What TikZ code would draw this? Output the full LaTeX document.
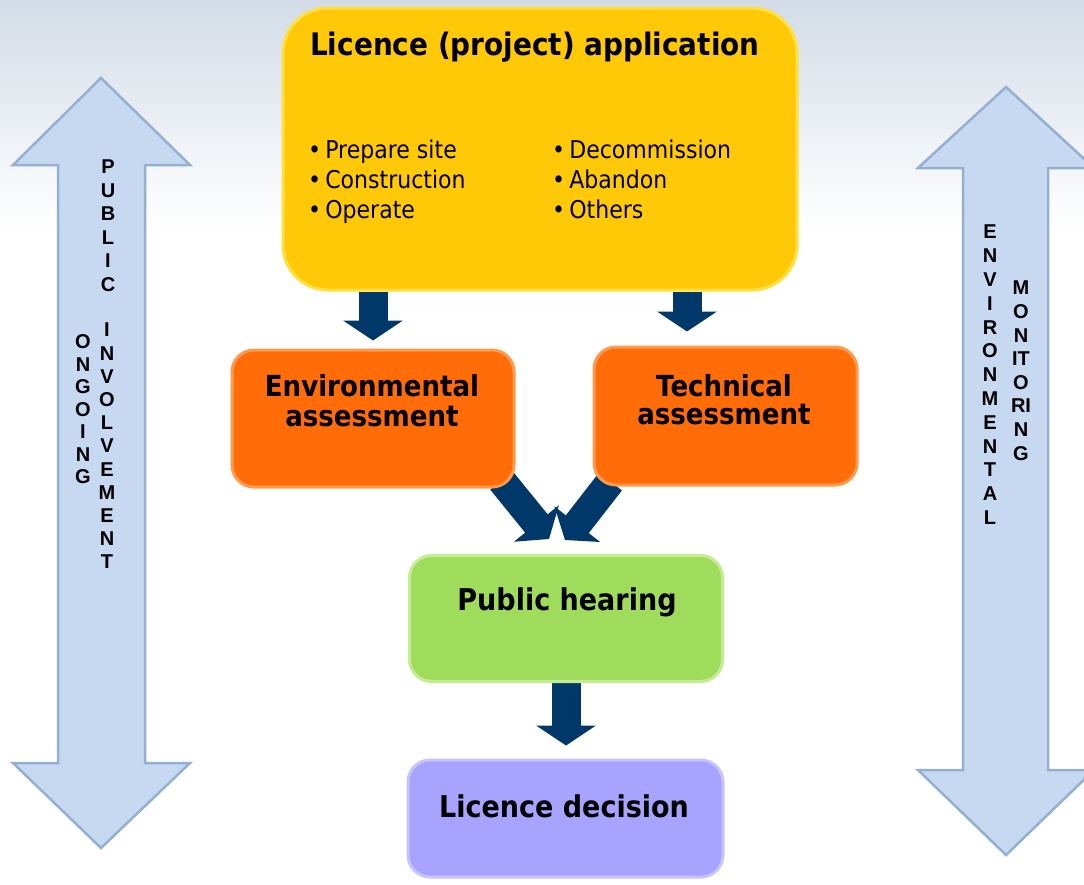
\documentclass[tikz,border=0pt]{standalone}
\usepackage{fontspec}
\setmainfont{DejaVu Sans}[FakeStretch=0.9]
\newfontfamily\lettres{Liberation Sans}
\usetikzlibrary{arrows.meta,positioning,backgrounds}

\definecolor{ciel}{HTML}{D3DCE7}
\definecolor{appfill}{HTML}{FFC908}
\definecolor{appedge}{HTML}{FFE040}
\definecolor{envfill}{HTML}{FF6C08}
\definecolor{envedge}{HTML}{FF9A4C}
\definecolor{hearfill}{HTML}{A0DC5C}
\definecolor{hearedge}{HTML}{C4EC92}
\definecolor{decfill}{HTML}{A7A3FF}
\definecolor{decedge}{HTML}{C6C3FF}
\definecolor{marine}{HTML}{00386A}
\definecolor{bleufill}{HTML}{C6D9F1}
\definecolor{bleuedge}{HTML}{93B0D3}

\begin{document}
\begin{tikzpicture}[x=1pt,y=-1pt,
    boite/.style={draw=#1edge,fill=#1fill,line width=3pt,rounded corners=22pt,inner sep=0pt},
    titre/.style={inner sep=0pt,font=\bfseries\fontsize{30}{30}\selectfont},
    puce/.style={anchor=base west,inner sep=0pt,font=\fontsize{24.5}{28}\selectfont},
    fleche/.style={draw=marine,line width=29pt,-{Triangle[length=20pt,width=59pt]}},
    colonne/.style={draw=bleuedge,fill=bleufill,line width=2.5pt},
    lettre/.style={inner sep=0pt,font=\lettres\bfseries\fontsize{20}{23}\selectfont}]
    % fond
    \useasboundingbox (0,0) rectangle (1084,884);
    \begin{scope}[on background layer]
        \fill[white] (0,0) rectangle (1084,884);
        \shade[top color=ciel,bottom color=white] (0,0) rectangle (1084,230);
    \end{scope}

    % grandes flèches verticales
    \draw[colonne] (101,78) -- (190,165) -- (145,165) -- (145,763) -- (190,763) -- (101,848)
        -- (13,763) -- (58,763) -- (58,165) -- (13,165) -- cycle;
    \draw[colonne] (1006,87) -- (1094,168) -- (1048,168) -- (1048,770) -- (1094,770) -- (1006,855)
        -- (918,770) -- (963,770) -- (963,168) -- (918,168) -- cycle;
    \foreach \c [count=\i] in {P,U,B,L,I,C}
        \node[lettre] (pub\i) at (108,{167+23.5*(\i-1)}) {\c};
    \foreach \c [count=\i] in {I,N,V,O,L,V,E,M,E,N,T}
        \node[lettre] (inv\i) at (107,{330+23.2*(\i-1)}) {\c};
    \foreach \c [count=\i] in {O,N,G,O,I,N,G}
        \node[lettre] (ong\i) at (83,{342+22.5*(\i-1)}) {\c};
    \foreach \c [count=\i] in {E,N,V,I,R,O,N,M,E,N,T,A,L}
        \node[lettre] (env\i) at (990,{232+23.8*(\i-1)}) {\c};
    \foreach \c [count=\i] in {M,O,N,IT,O,RI,N,G}
        \node[lettre] (mon\i) at (1021,{288+23.6*(\i-1)}) {\c};

    % étapes
    \node[boite=app,rounded corners=45pt,minimum width=514pt,minimum height=282pt] (app) at (540,149) {};
    \node[boite=env,minimum width=282pt,minimum height=137pt] (env) at (373,418.5) {};
    \node[boite=env,minimum width=263pt,minimum height=138pt] (tech) at (725.5,416) {};
    \node[boite=hear,minimum width=313pt,minimum height=126pt] (hear) at (566,618.5) {};
    \node[boite=dec,minimum width=315pt,minimum height=117pt] (dec) at (565.5,818.5) {};

    \node[titre,anchor=base west,font=\bfseries\fontsize{31}{31}\selectfont] (appt) at (310,55) {Licence (project) application};
    \foreach \t [count=\i] in {Prepare site,Construction,Operate}
        \node[puce] (ga\i) at (308,{128+30*\i}) {•\,\t};
    \foreach \t [count=\i] in {Decommission,Abandon,Others}
        \node[puce] (dr\i) at (552,{128+30*\i}) {•\,\t};
    \node[titre,align=center,anchor=south,font=\bfseries\fontsize{29}{30}\selectfont] (envt) at (372,427) {Environmental\\assessment};
    \node[titre,align=center,anchor=south,font=\bfseries\fontsize{29}{28}\selectfont] (techt) at (724,425) {Technical\\assessment};
    \node[titre,anchor=base] (heart) at (567,610) {Public hearing};
    \node[titre,anchor=base] (dect) at (564,817) {Licence decision};

    % flèches entre étapes
    \coordinate (tin) at ([xshift=-38.5pt,yshift=14pt]tech.north);
    \coordinate (gl) at ([xshift=-17pt,yshift=15pt]hear.north);
    \coordinate (gr) at ([xshift=-1pt,yshift=14pt]hear.north);
    \begin{scope}[on background layer]
        \draw[fleche] (app.south -| env.north) -- ([yshift=8pt]env.north);
        \draw[fleche] (app.south -| tin) -- (tin);
        \draw[fleche,-{Triangle[length=20pt,width=57pt]}] ([xshift=-14pt,yshift=8pt]env.south east) -- (gl);
        \draw[fleche,-{Triangle[length=20pt,width=57pt]}] ([xshift=18pt,yshift=5pt]tech.south west) -- (gr);
        \draw[fleche] (hear.south) -- ([yshift=13pt]hear.south |- dec.north);
    \end{scope}
\end{tikzpicture}
\end{document}
